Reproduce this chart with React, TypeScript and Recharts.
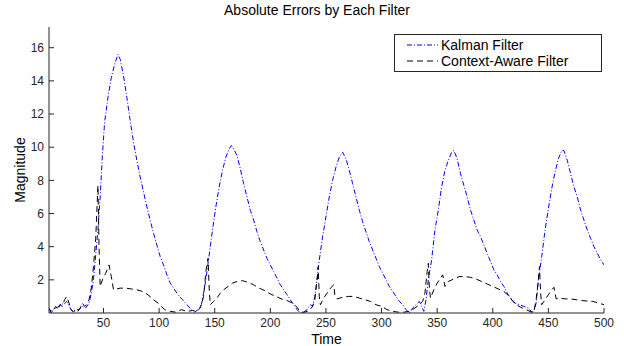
import React from 'react';
import { LineChart, Line, XAxis, YAxis, Legend, Label } from 'recharts';

const FONT = '"Liberation Sans", Arial, Helvetica, sans-serif';

const kalmanTime = [
  1, 4, 7, 10, 12, 14, 17, 20, 22, 25, 28, 31, 34, 37, 39, 41, 43, 45, 47, 49,
  51, 54, 57, 60, 63, 65, 68, 71, 74, 77, 80, 83, 86, 89, 92, 95, 98, 101, 104, 107,
  110, 113, 117, 121, 125, 129, 132, 135, 138, 140, 142, 145, 148, 151, 154, 157, 160, 163, 165, 167,
  170, 173, 176, 179, 182, 185, 188, 191, 194, 197, 200, 203, 206, 209, 212, 215, 218, 221, 224, 227,
  230, 233, 236, 238, 240, 242, 244, 247, 250, 253, 256, 259, 262, 265, 268, 271, 274, 277, 280, 283,
  286, 289, 292, 295, 298, 301, 304, 307, 310, 313, 316, 319, 322, 325, 328, 331, 334, 336, 338, 340,
  342, 345, 348, 351, 354, 357, 360, 363, 365, 368, 371, 374, 377, 380, 383, 386, 389, 392, 395, 398,
  401, 404, 407, 410, 413, 416, 420, 424, 428, 432, 435, 437, 439, 441, 444, 447, 450, 453, 456, 459,
  462, 464, 467, 470, 473, 476, 479, 482, 485, 488, 491, 494, 497, 500,
];
const kalmanValues = [
  0.2, 0.1, 0.3, 0.4, 0.6, 0.5, 0.7, 0.3, 0.1, 0.2, 0.2, 0.4, 0.3, 0.6, 1.2, 2.0, 3.5, 5.0, 7.0, 9.5,
  11.5, 13.0, 14.2, 15.0, 15.6, 15.3, 14.3, 13.0, 11.6, 10.3, 9.2, 8.2, 7.3, 6.4, 5.6, 4.8, 4.1, 3.4, 2.9, 2.3,
  1.8, 1.5, 1.1, 0.8, 0.5, 0.2, 0.05, 0.2, 0.5, 1.2, 2.0, 3.5, 5.0, 6.4, 7.6, 8.6, 9.4, 9.9, 10.1, 9.9,
  9.5, 8.7, 7.8, 7.0, 6.2, 5.6, 4.9, 4.3, 3.8, 3.3, 2.9, 2.5, 2.1, 1.7, 1.4, 1.1, 0.8, 0.5, 0.2, 0.0,
  0.05, 0.2, 0.5, 0.4, 1.0, 2.0, 3.2, 4.6, 5.8, 7.0, 8.0, 8.8, 9.4, 9.7, 9.3, 8.6, 7.8, 7.0, 6.2, 5.5,
  4.9, 4.3, 3.8, 3.3, 2.8, 2.4, 2.0, 1.6, 1.3, 1.0, 0.7, 0.5, 0.2, 0.0, 0.3, 0.5, 0.7, 0.4, 0.1, 0.8,
  2.0, 3.2, 5.0, 6.2, 7.6, 8.6, 9.2, 9.7, 9.8, 9.3, 8.4, 7.7, 7.0, 6.2, 5.6, 5.0, 4.6, 4.1, 3.6, 3.1,
  2.6, 2.3, 1.9, 1.6, 1.2, 0.9, 0.6, 0.5, 0.4, 0.3, 0.05, 0.1, 0.6, 2.0, 3.4, 5.0, 6.3, 7.5, 8.5, 9.3,
  9.8, 9.8, 9.2, 8.4, 7.6, 7.0, 6.2, 5.6, 5.0, 4.5, 4.0, 3.6, 3.2, 2.9,
];

const contextTime = [
  1, 3, 5, 7, 9, 11, 13, 15, 17, 19, 21, 23, 25, 27, 29, 31, 33, 35, 37, 39,
  41, 43, 45, 46, 47, 49, 52, 55, 57, 59, 65, 70, 75, 80, 85, 90, 95, 99, 102, 105,
  110, 115, 120, 125, 130, 134, 137, 140, 142, 144, 145, 146, 149, 152, 155, 158, 162, 166, 170, 175,
  180, 185, 190, 195, 200, 205, 210, 215, 220, 224, 227, 231, 235, 238, 240, 242, 243, 244, 245, 248,
  251, 254, 257, 258, 260, 265, 270, 275, 280, 285, 290, 295, 300, 305, 310, 315, 320, 325, 330, 334,
  337, 339, 341, 342, 343, 344, 347, 350, 353, 355, 357, 360, 365, 370, 375, 380, 385, 390, 395, 400,
  405, 410, 415, 418, 421, 425, 430, 435, 437, 439, 441, 442, 443, 444, 447, 450, 453, 455, 457, 460,
  465, 470, 475, 480, 485, 490, 495, 500,
];
const contextValues = [
  0.3, 0.0, 0.2, 0.4, 0.2, 0.5, 0.4, 0.8, 1.0, 0.6, 0.2, 0.05, 0.2, 0.1, 0.3, 0.6, 0.4, 0.5, 0.8, 1.5,
  2.8, 4.5, 7.7, 4.0, 1.6, 2.0, 2.4, 2.9, 2.2, 1.4, 1.5, 1.5, 1.45, 1.4, 1.3, 1.1, 0.8, 0.6, 0.4, 0.2,
  0.1, 0.05, 0.2, 0.1, 0.15, 0.1, 0.3, 1.0, 2.5, 3.3, 1.5, 0.5, 0.7, 0.9, 1.2, 1.4, 1.6, 1.8, 1.9, 1.95,
  1.85, 1.7, 1.5, 1.35, 1.15, 1.0, 0.85, 0.75, 0.6, 0.35, 0.05, 0.05, 0.15, 0.4, 0.8, 2.0, 2.8, 1.0, 0.5, 0.9,
  1.2, 1.5, 1.7, 1.1, 0.85, 0.95, 1.0, 1.0, 0.9, 0.8, 0.7, 0.5, 0.4, 0.2, 0.1, 0.05, 0.05, 0.1, 0.3, 0.5,
  0.7, 1.2, 2.5, 3.0, 1.5, 0.9, 1.4, 1.8, 2.1, 2.3, 1.6, 1.9, 2.05, 2.2, 2.2, 2.15, 2.05, 1.9, 1.75, 1.6,
  1.45, 1.3, 1.0, 0.7, 0.5, 0.35, 0.2, 0.05, 0.1, 0.8, 2.0, 2.8, 1.2, 0.5, 0.8, 1.1, 1.4, 1.55, 0.85, 0.9,
  0.85, 0.85, 0.8, 0.75, 0.72, 0.7, 0.6, 0.5,
];

const xTicks = [50, 100, 150, 200, 250, 300, 350, 400, 450, 500];
const yTicks = [2, 4, 6, 8, 10, 12, 14, 16];
const seriesNames = ['Kalman Filter', 'Context-Aware Filter'];
const titleText = 'Absolute Errors by Each Filter';
const xLabelText = 'Time';
const yLabelText = 'Magnitude';

const kalmanData = kalmanTime.map((t, i) => ({ t, v: kalmanValues[i] }));
const contextData = contextTime.map((t, i) => ({ t, v: contextValues[i] }));

const styles = [
  { color: '#0000ff', dash: '5 2 1 2' },
  { color: '#000000', dash: '6 4' },
];

const AXIS = '#262626';

const LegendBox = () => (
  <div
    style={{
      border: `1px solid ${AXIS}`,
      background: '#fff',
      width: 208,
      height: 38,
      boxSizing: 'border-box',
      padding: '2px 0 0 12px',
      fontFamily: FONT,
      fontSize: 14,
      color: '#000',
    }}
  >
    {seriesNames.map((name, i) => (
      <div key={name} style={{ display: 'flex', alignItems: 'center', height: 16 }}>
        <svg width={31} height={10} style={{ display: 'block' }}>
          <line x1={0} x2={31} y1={5} y2={5} stroke={styles[i].color} strokeWidth={1} strokeDasharray={styles[i].dash} />
        </svg>
        <span style={{ marginLeft: 3, whiteSpace: 'nowrap', lineHeight: '16px' }}>{name}</span>
      </div>
    ))}
  </div>
);

const tickStyle = { fontSize: 12, fill: AXIS, fontFamily: FONT };

export default function App() {
  return (
    <div style={{ position: 'absolute', left: 0, top: 0, width: 624, height: 346, background: '#fff', fontFamily: FONT }}>
      <LineChart width={624} height={346} margin={{ top: 27, right: 20, bottom: 0, left: 0 }}>
        <XAxis
          xAxisId="bottom"
          dataKey="t"
          type="number"
          domain={[1, 500]}
          ticks={xTicks}
          allowDataOverflow
          height={33}
          tickSize={-5}
          tickMargin={10}
          tick={tickStyle}
          axisLine={{ stroke: AXIS }}
          tickLine={{ stroke: AXIS }}
        >
          <Label value={xLabelText} position="insideBottom" offset={2} style={{ fontSize: 14, fill: '#000', fontFamily: FONT }} />
        </XAxis>
        <XAxis
          xAxisId="top"
          orientation="top"
          dataKey="t"
          type="number"
          domain={[1, 500]}
          ticks={xTicks}
          allowDataOverflow
          height={0}
          tickSize={-5}
          tick={false}
          axisLine={{ stroke: AXIS }}
          tickLine={{ stroke: AXIS }}
        />
        <YAxis
          yAxisId="left"
          type="number"
          domain={[0, 17.25]}
          ticks={yTicks}
          allowDataOverflow
          width={49}
          tickSize={-5}
          tickMargin={10}
          tick={tickStyle}
          axisLine={{ stroke: AXIS }}
          tickLine={{ stroke: AXIS }}
        >
          <Label value={yLabelText} angle={-90} position="insideLeft" offset={20} style={{ fontSize: 14, fill: '#000', fontFamily: FONT, textAnchor: 'middle' }} />
        </YAxis>
        <YAxis
          yAxisId="right"
          orientation="right"
          type="number"
          domain={[0, 17.25]}
          ticks={yTicks}
          allowDataOverflow
          width={0}
          tickSize={-5}
          tick={false}
          axisLine={{ stroke: AXIS }}
          tickLine={{ stroke: AXIS }}
        />
        <Line
          data={kalmanData}
          xAxisId="bottom"
          yAxisId="left"
          dataKey="v"
          name={seriesNames[0]}
          type="linear"
          stroke={styles[0].color}
          strokeWidth={1}
          strokeDasharray={styles[0].dash}
          dot={false}
          activeDot={false}
          isAnimationActive={false}
        />
        <Line
          data={contextData}
          xAxisId="bottom"
          yAxisId="left"
          dataKey="v"
          name={seriesNames[1]}
          type="linear"
          stroke={styles[1].color}
          strokeWidth={1}
          strokeDasharray={styles[1].dash}
          dot={false}
          activeDot={false}
          isAnimationActive={false}
        />
        <Legend
          layout="horizontal"
          verticalAlign="middle"
          align="center"
          content={<LegendBox />}
          wrapperStyle={{ left: 394, top: 34, width: 208, height: 38, margin: 0 }}
        />
      </LineChart>
      <div
        style={{
          position: 'absolute',
          left: 0,
          top: 2,
          width: 634,
          textAlign: 'center',
          fontSize: 14,
          lineHeight: '16px',
          color: '#000',
          fontFamily: FONT,
          pointerEvents: 'none',
        }}
      >
        {titleText}
      </div>
    </div>
  );
}
